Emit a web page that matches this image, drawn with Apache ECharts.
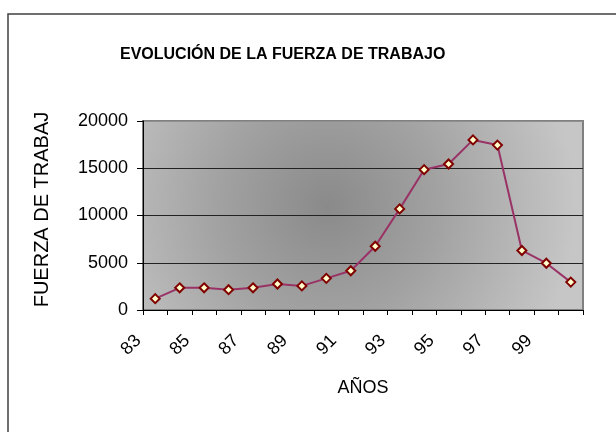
<!DOCTYPE html>
<html>
<head>
<meta charset="utf-8">
<script src="https://cdn.jsdelivr.net/npm/echarts@6/dist/echarts.min.js"></script>
<style>
  html, body { margin: 0; padding: 0; background: #fff; }
  #main { width: 616px; height: 432px; }
</style>
</head>
<body>
<div id="main"></div>
<script>
// datos
var years = ['83', '84', '85', '86', '87', '88', '89', '90', '91',
             '92', '93', '94', '95', '96', '97', '98', '99', '100'];
var fuerzaTrabajo = [1200, 2350, 2350, 2150, 2350, 2750, 2550, 3350, 4150,
                     6750, 10700, 14850, 15450, 18000, 17450, 6300, 4950, 2950];
var yTicks = { min: 0, max: 20000, step: 5000 };

var chartTitle = 'EVOLUCIÓN DE LA FUERZA DE TRABAJO';
var yName = 'FUERZA DE TRABAJO';
var xName = 'AÑOS';

var myChart = echarts.init(document.getElementById('main'));

var option = {
    animation: false,
    textStyle: { fontFamily: 'Liberation Sans, Arial, sans-serif' },
    title: {
        text: chartTitle,
        left: 115,
        top: 42,
        textStyle: { fontSize: 16, fontWeight: 'bold', color: '#000' }
    },
    graphic: [
        {
            type: 'rect',
            silent: true,
            shape: { x: 8, y: 14, width: 700, height: 500 },
            style: { fill: 'none', stroke: '#404040', lineWidth: 1.5 }
        }
    ],
    grid: {
        left: 143,
        right: 33,
        top: 121,
        bottom: 122,
        show: true,
        borderColor: '#808080',
        borderWidth: 2,
        backgroundColor: {
            type: 'radial',
            x: 0.42, y: 0.45, r: 1.3,
            colorStops: [
                { offset: 0, color: '#8a8a8a' },
                { offset: 0.45, color: '#a2a2a2' },
                { offset: 1, color: '#c6c6c6' }
            ]
        }
    },
    xAxis: {
        type: 'category',
        data: years,
        boundaryGap: true,
        name: xName,
        nameLocation: 'middle',
        nameGap: 69,
        nameTextStyle: { fontSize: 18, color: '#000' },
        axisLine: { lineStyle: { color: '#000', width: 1 } },
        axisTick: { show: true, interval: 0, length: 5, lineStyle: { color: '#000' } },
        axisLabel: {
            interval: 1,
            rotate: 45,
            margin: 11,
            padding: [0, 24, 0, 0],
            fontSize: 18,
            color: '#000'
        },
        splitLine: { show: false }
    },
    yAxis: {
        type: 'value',
        min: yTicks.min,
        max: yTicks.max,
        interval: yTicks.step,
        // título del eje cortado por arriba, como en el original
        name: yName,
        nameLocation: 'middle',
        nameRotate: 90,
        nameGap: 91,
        nameTruncate: { maxWidth: 210, ellipsis: '' },
        nameTextStyle: { fontSize: 20, color: '#000', padding: [0, 0, 0, 12] },
        axisLine: { show: true, lineStyle: { color: '#000', width: 1 } },
        axisTick: { show: true, length: 6, lineStyle: { color: '#000' } },
        axisLabel: {
            fontSize: 18,
            color: '#000',
            margin: 15,
            formatter: function (v) { return String(v); }
        },
        splitLine: {
            show: true,
            lineStyle: { color: ['#000', '#222', '#222', '#222', '#909090'], width: 1 }
        }
    },
    series: [
        {
            name: yName,
            type: 'line',
            data: fuerzaTrabajo,
            symbol: 'diamond',
            symbolSize: 9,
            lineStyle: { color: '#993366', width: 2 },
            itemStyle: { color: '#FFFFCC', borderColor: '#800000', borderWidth: 2 }
        }
    ]
};

myChart.setOption(option);
</script>
</body>
</html>
